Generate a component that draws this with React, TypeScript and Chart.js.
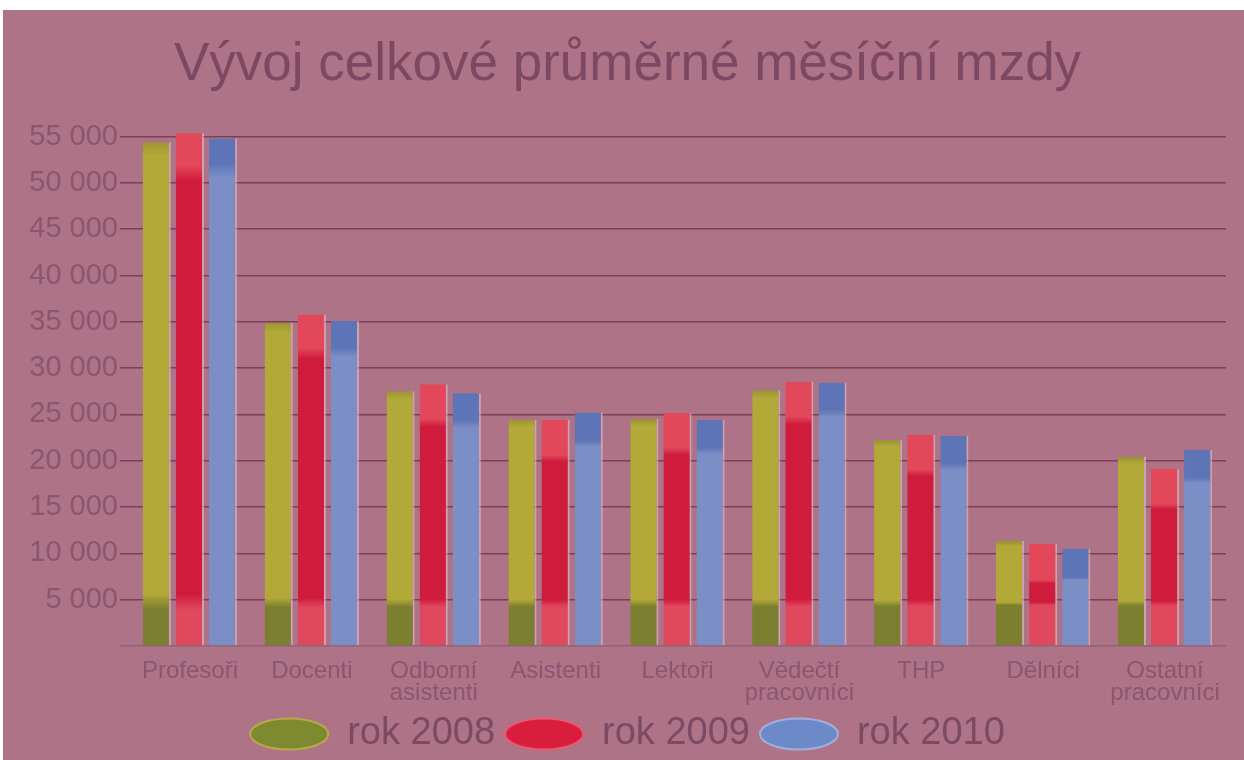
import { useEffect, useRef } from 'react';
import { Chart, registerables } from 'chart.js';

Chart.register(...registerables);

const titleText = 'Vývoj celkové průměrné měsíční mzdy';
const categories: (string | string[])[] = [
  'Profesoři',
  'Docenti',
  ['Odborní', 'asistenti'],
  'Asistenti',
  'Lektoři',
  ['Vědečtí', 'pracovníci'],
  'THP',
  'Dělníci',
  ['Ostatní', 'pracovníci'],
];
const seriesNames = ['rok 2008', 'rok 2009', 'rok 2010'];
const rok2008 = [54400, 34900, 27500, 24450, 24500, 27600, 22250, 11350, 20400];
const rok2009 = [55350, 35800, 28250, 24400, 25150, 28500, 22800, 11000, 19150];
const rok2010 = [54800, 35100, 27300, 25200, 24400, 28450, 22700, 10500, 21200];
const yMin = 0;
const yMax = 55000;
const yStep = 5000;

const BG = '#ae7386';
const GRID = '#7c3f58';
const LABEL = '#8a5670';
const TITLE = '#7d4862';

type Look = { main: string; bottom: string; top: string; topValue: number; bottomValue: number };
const looks: Look[] = [
  { main: '#b2a939', bottom: '#7c7e30', top: '#9c9434', topValue: 300, bottomValue: 4500 },
  { main: '#cf1c3c', bottom: '#e0485e', top: '#e2485a', topValue: 4000, bottomValue: 4500 },
  { main: '#7b8fc6', bottom: '#7b8fc6', top: '#5d74b6', topValue: 3200, bottomValue: 0 },
];
const legendFill = ['#7d8a2f', '#d81e3c', '#6d8ac8'];
const legendRim = ['#b9a84a', '#e85a6e', '#9fb0dc'];

const clamp = (v: number) => Math.max(0, Math.min(1, v));

function makeFill(look: Look) {
  return (ctx: any) => {
    const chart = ctx.chart;
    const y = chart.scales && chart.scales.y;
    const v = ctx.raw;
    if (!y || typeof v !== 'number' || !chart.chartArea) return look.main;
    const y0 = y.getPixelForValue(0);
    const yt = y.getPixelForValue(v);
    const h = y0 - yt;
    if (!(h > 0)) return look.main;
    const g = chart.ctx.createLinearGradient(0, y0, 0, yt);
    const fb = clamp((y0 - y.getPixelForValue(look.bottomValue)) / h);
    const ft = clamp(1 - (y0 - y.getPixelForValue(look.topValue)) / h);
    g.addColorStop(0, look.bottom);
    g.addColorStop(clamp(fb - 0.01), look.bottom);
    g.addColorStop(clamp(fb + 0.02), look.main);
    g.addColorStop(clamp(ft - 0.02), look.main);
    g.addColorStop(clamp(ft + 0.01), look.top);
    g.addColorStop(1, look.top);
    return g;
  };
}

export default function App() {
  const ref = useRef<HTMLCanvasElement | null>(null);

  useEffect(() => {
    if (!ref.current) return;
    const series = [rok2008, rok2009, rok2010];
    const chart = new Chart(ref.current, {
      type: 'bar',
      data: {
        labels: categories,
        datasets: series.map((d, i) => ({
          label: seriesNames[i],
          data: d,
          backgroundColor: makeFill(looks[i]),
          borderColor: 'rgba(235, 200, 215, 0.55)',
          borderWidth: { left: 0, right: 2, top: 0, bottom: 0 },
          borderSkipped: false,
          barPercentage: 0.85,
          categoryPercentage: 0.815,
          clip: false,
        })),
      },
      options: {
        responsive: false,
        animation: false,
        layout: { padding: { left: 26, right: 18, top: 0, bottom: 0 } },
        plugins: {
          title: {
            display: true,
            text: titleText,
            color: TITLE,
            font: {
              family: '"Liberation Sans", Arial, sans-serif',
              size: 53,
              weight: 'normal',
            },
            padding: { top: 24, bottom: 39 },
          },
          legend: {
            position: 'bottom',
            labels: {
              usePointStyle: true,
              pointStyle: 'circle',
              pointStyleWidth: 78,
              boxHeight: 22,
              padding: 10,
              color: '#7c4a62',
              font: { family: '"Liberation Sans", Arial, sans-serif', size: 38 },
              generateLabels: (c: any) =>
                c.data.datasets.map((ds: any, i: number) => ({
                  text: ds.label,
                  fillStyle: legendFill[i],
                  strokeStyle: legendRim[i],
                  lineWidth: 2,
                  pointStyle: 'circle',
                  datasetIndex: i,
                  hidden: false,
                  fontColor: '#7c4a62',
                })),
            },
          },
          tooltip: { enabled: false },
        },
        scales: {
          x: {
            grid: { display: false, drawTicks: false },
            border: { display: false },
            ticks: {
              color: LABEL,
              padding: 14,
              maxRotation: 0,
              autoSkip: false,
              font: { family: '"Liberation Sans", Arial, sans-serif', size: 24, lineHeight: 0.92 },
            },
            afterFit: (s: any) => {
              s.height = 59;
            },
          },
          y: {
            min: yMin,
            max: yMax,
            border: { display: false },
            grid: {
              color: (c: any) => (c.tick && c.tick.value === 0 ? '#8e6476' : GRID),
              lineWidth: 1.5,
              drawTicks: true,
              tickLength: 9,
            },
            ticks: {
              stepSize: yStep,
              color: LABEL,
              padding: 2,
              font: { family: '"Liberation Sans", Arial, sans-serif', size: 29 },
              callback: (v: any) => (v === 0 ? '' : `${Math.round(v / 1000)} 000`),
            },
            afterFit: (s: any) => {
              s.width = 100;
            },
          },
        },
      },
    });
    return () => chart.destroy();
  }, []);

  return (
    <div
      style={{
        position: 'fixed',
        left: 3,
        top: 10,
        width: 1241,
        height: 753,
        background: BG,
      }}
    >
      <canvas ref={ref} width={1241} height={753} style={{ display: 'block' }} />
    </div>
  );
}
